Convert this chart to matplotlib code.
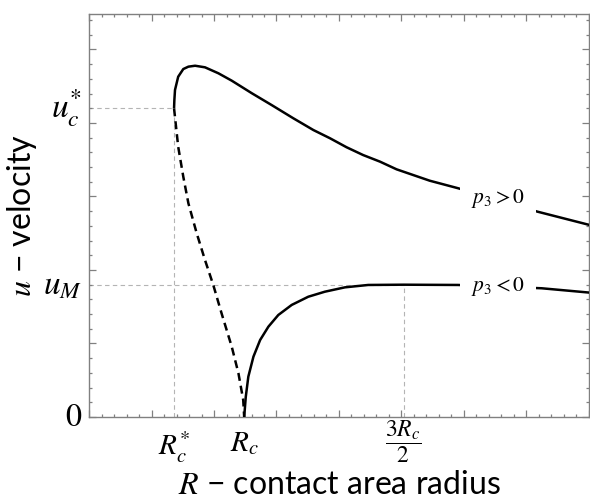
import numpy as np
import matplotlib.pyplot as plt
from matplotlib.ticker import MultipleLocator, FixedLocator

plt.rcParams['mathtext.fontset'] = 'stix'

# R measured in units of R_c, u measured in units of u_M
R_star = 0.78      # R_c^*
u_star = 7 / 3     # u_c^*
R_top = 1.5        # 3R_c/2, where the p3<0 branch reaches u_M

# p3 > 0 branch (solid, upper)
upper_R = [0.780, 0.781, 0.783, 0.793, 0.809, 0.825, 0.846, 0.877, 0.919, 0.961,
           1.024, 1.086, 1.154, 1.217, 1.269, 1.321, 1.373, 1.426, 1.478, 1.530,
           1.582, 1.671, 1.796, 1.920, 2.084]
upper_u = [2.333, 2.396, 2.472, 2.572, 2.630, 2.648, 2.655, 2.643, 2.598, 2.542,
           2.447, 2.358, 2.258, 2.169, 2.107, 2.039, 1.980, 1.930, 1.872, 1.829,
           1.786, 1.729, 1.640, 1.552, 1.451]

# unstable branch (dashed)
dash_R = [0.780, 0.793, 0.809, 0.825, 0.851, 0.877, 0.903, 0.929, 0.961, 0.982, 0.997, 1.000]
dash_u = [2.333, 2.043, 1.816, 1.615, 1.389, 1.187, 0.998, 0.784, 0.531, 0.330, 0.128, 0.0]

# p3 < 0 branch (solid, lower)
lower_R = [1.000, 1.005, 1.013, 1.029, 1.050, 1.076, 1.107, 1.149, 1.201, 1.253,
           1.316, 1.389, 1.500, 1.582, 1.671, 1.796, 1.933, 2.084]
lower_u = [0.0, 0.153, 0.305, 0.456, 0.582, 0.683, 0.771, 0.847, 0.909, 0.947,
           0.980, 0.998, 1.000, 0.999, 0.998, 0.986, 0.973, 0.940]

fig = plt.figure(figsize=(5.9, 5.0), dpi=100)
ax = fig.add_axes([0.151, 0.166, 0.847, 0.806])

xmin, xmax = 0.5135, 2.081
ax.set_xlim(xmin, xmax)
ax.set_ylim(0, 3.046)

# guide lines
gk = dict(color='#b4b4b4', lw=0.8, dashes=(4, 3), zorder=1)
ax.plot([xmin, R_star], [u_star, u_star], **gk)
ax.plot([R_star, R_star], [0, u_star], **gk)
ax.plot([xmin, R_top], [1, 1], **gk)
ax.plot([R_top, R_top], [0, 1], **gk)

ax.plot(upper_R, upper_u, color='black', lw=1.8, zorder=3, solid_capstyle='butt')
ax.plot(lower_R, lower_u, color='black', lw=1.8, zorder=3, solid_capstyle='butt')
ax.plot(dash_R, dash_u, color='black', lw=1.8, dashes=(3.2, 2.0), zorder=3)

# curve labels (white box cuts the curve like in the original)
bb = dict(facecolor='white', edgecolor='none', boxstyle='square,pad=0.5')
ax.text(1.796, 1.648, r'$p_3 > 0$', fontsize=15.5, ha='center', va='center', bbox=bb, zorder=4)
ax.text(1.796, 0.985, r'$p_3 < 0$', fontsize=15.5, ha='center', va='center', bbox=bb, zorder=4)

# ticks: decorative, no default labels
ax.xaxis.set_major_locator(FixedLocator(np.linspace(xmin, xmax, 9)))
ax.xaxis.set_minor_locator(FixedLocator(np.linspace(xmin, xmax, 41)))
ax.yaxis.set_major_locator(MultipleLocator(5 / 9))
ax.yaxis.set_minor_locator(MultipleLocator(1 / 9))
ax.tick_params(which='both', direction='in', top=True, right=True, color='#808080',
               labelbottom=False, labelleft=False, width=0.9)
ax.tick_params(which='major', length=4.7)
ax.tick_params(which='minor', length=2.4)
for s in ax.spines.values():
    s.set_color('#808080')
    s.set_linewidth(1.0)

# special tick labels
ylab_pos = [0, 1, u_star]
ylab_txt = [r'$0$', r'$u_M$', r'$u_c^{*}$']
ylab_size = [23, 24, 24]
for y, t, fs in zip(ylab_pos, ylab_txt, ylab_size):
    ax.annotate(t, xy=(0, y), xycoords=('axes fraction', 'data'), xytext=(-5, 0),
                textcoords='offset points', ha='right', va='center', fontsize=fs)

xlab_pos = [R_star, 1.0, R_top]
xlab_txt = [r'$R_c^{*}$', r'$R_c$', r'$\dfrac{3R_c}{2}$']
xlab_off = [-9, -9, -1]
xlab_size = [21, 21, 17]
for x, t, off, fs in zip(xlab_pos, xlab_txt, xlab_off, xlab_size):
    ax.annotate(t, xy=(x, 0), xycoords=('data', 'axes fraction'), xytext=(0, off),
                textcoords='offset points', ha='center', va='top', fontsize=fs)

ax.set_xlabel('$R$ \u2212 contact area radius', fontsize=23, family=['Lato', 'DejaVu Sans'], labelpad=38)
ax.set_ylabel('$u$ \u2212 velocity', fontsize=23, family=['Lato', 'DejaVu Sans'], labelpad=36)

fig.savefig('out.png', dpi=100)
